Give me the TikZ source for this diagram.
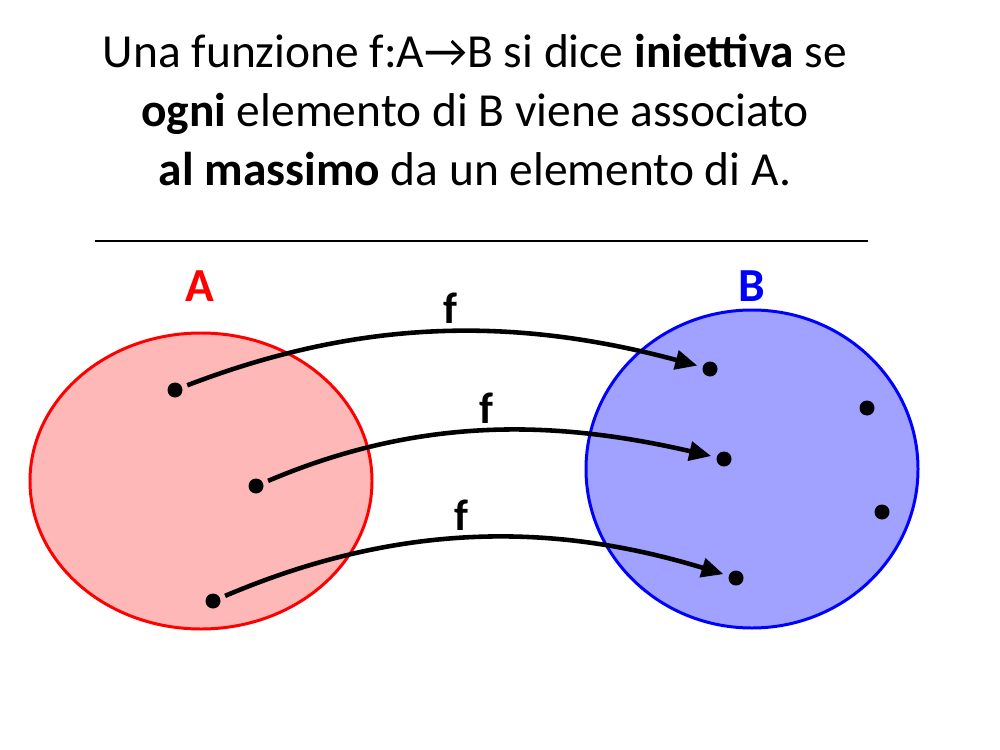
\documentclass[tikz,border=0pt]{standalone}
\usepackage{fontspec}
\setmainfont{Carlito}
\usepackage{tikz}
\usetikzlibrary{arrows.meta}

\begin{document}
\begin{tikzpicture}[x=0.02cm, y=-0.02cm,
    dot/.style={circle,fill=black,inner sep=0pt,minimum size=0.3cm},
    mapto/.style={line width=2.6pt,-{Triangle[length=0.44cm,width=0.38cm]},shorten <=3pt,shorten >=3pt},
    flabel/.style={font=\fontsize{25}{27}\selectfont\bfseries,above,yshift=0pt},
    setname/.style={font=\fontsize{27}{30}\selectfont\bfseries}]
  \useasboundingbox (0,0) rectangle (1000,750);

  % definition
  \node[align=center,font=\fontsize{27}{33.5}\selectfont] (title) at (475,110)
    {Una funzione f:A→B si dice \textbf{iniettiva} se\\
     \textbf{ogni} elemento di B viene associato\\
     \textbf{al massimo} da un elemento di A.};
  \coordinate (ruleL) at (95,241);
  \coordinate (ruleR) at (868,241);
  \draw[line width=1.6pt] (ruleL) -- (ruleR);

  % the two sets
  \draw[red,line width=1.7pt,fill=red!28] (201,481) ellipse [x radius=171, y radius=148];
  \draw[blue,line width=1.7pt,fill=blue!37] (752,469) ellipse [x radius=166, y radius=159];
  \node[setname,text=red] (setA) at (200,286) {A};
  \node[setname,text=blue] (setB) at (752,286) {B};

  % elements
  \node[dot] (a1) at (175,390) {};
  \node[dot] (a2) at (256,486) {};
  \node[dot] (a3) at (213,601) {};
  \node[dot] (b1) at (710,369) {};
  \node[dot] (b2) at (724,459) {};
  \node[dot] (b3) at (736,578) {};
  \node[dot] (b4) at (867,408) {};
  \node[dot] (b5) at (882,512) {};

  % the map f
  \draw[mapto] (a1) to[out=21,in=165,looseness=0.95] node[flabel,pos=0.52] {f} (b1);
  \draw[mapto] (a2) to[out=23,in=167,looseness=0.95] node[flabel,pos=0.5] {f} (b2);
  \draw[mapto] (a3) to[out=23,in=163,looseness=0.95] node[flabel,pos=0.48] {f} (b3);
\end{tikzpicture}
\end{document}
